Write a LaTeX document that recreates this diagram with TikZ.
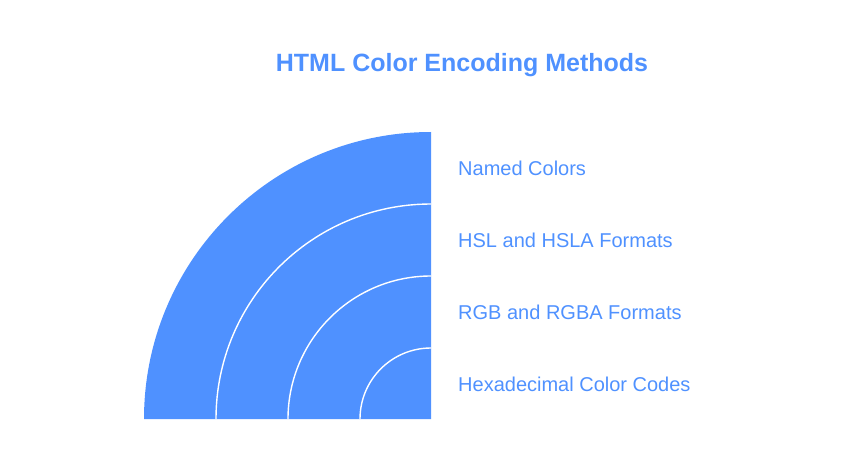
\documentclass[tikz,border=0pt]{standalone}
\usepackage{fontspec}
\setmainfont{Liberation Sans}
\definecolor{encblue}{RGB}{79,145,255}
\tikzset{
  label/.style={anchor=west, inner sep=0pt, text=encblue, font=\fontsize{20}{22}\selectfont},
  ring/.style={white, line width=1.4pt}
}
\begin{document}
\begin{tikzpicture}[x=1pt,y=-1pt]
    \useasboundingbox (0,0) rectangle (860,468);
    \node (title) at (462,65) [text=encblue, font=\fontsize{25}{28}\selectfont\bfseries]
      {HTML Color Encoding Methods};
    \coordinate (c) at (431,419);
    \fill [encblue] (c) -- +(-287,0) arc [start angle=180, end angle=270, radius=287] -- cycle;
    \foreach \r in {215,143,71}
      \draw [ring] (c) ++(-\r,0) arc [start angle=180, end angle=270, radius=\r];
    \node (named) at (458,168) [label] {Named Colors};
    \node (hsl) at (458,240) [label] {HSL and HSLA Formats};
    \node (rgb) at (458,312) [label] {RGB and RGBA Formats};
    \node (hex) at (458,384) [label] {Hexadecimal Color Codes};
\end{tikzpicture}
\end{document}
